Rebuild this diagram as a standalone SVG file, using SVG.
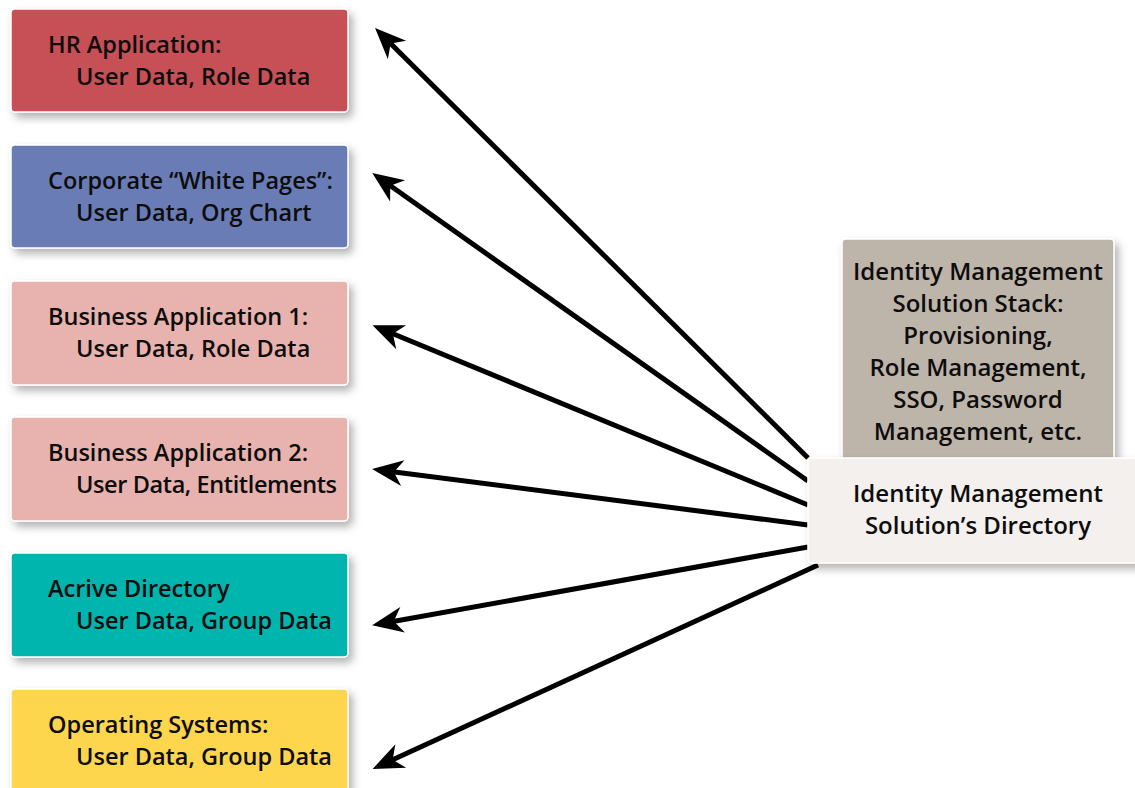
<svg xmlns="http://www.w3.org/2000/svg" width="1135" height="788" viewBox="0 0 1135 788">
<style>
  .lbl { font-family: "Open Sans", "Liberation Sans", sans-serif; font-weight: 600; font-size: 23.5px; fill: #0d0d0d; }
  .rt { font-size: 24px; }
  .ctr { text-anchor: middle; }
  .box { filter: url(#sh); }
  .conn { stroke: #000; stroke-width: 5; fill: none; marker-end: url(#ah); }
</style>
<defs>
  <filter id="sh" x="-10%" y="-20%" width="125%" height="150%">
    <feDropShadow dx="4" dy="5" stdDeviation="4" flood-color="#000" flood-opacity="0.3"/>
  </filter>
  <marker id="ah" markerUnits="userSpaceOnUse" viewBox="-26 -15 36 30" refX="0" refY="0" markerWidth="36" markerHeight="30" orient="auto">
    <path d="M7,0 L-24,-13 L-15,0 L-24,13 Z" fill="#000"/>
  </marker>
</defs>
<rect width="1135" height="788" fill="#fff"/>

<g id="connectors">
  <line class="conn" x1="808" y1="458" x2="380" y2="33"/>
  <line class="conn" x1="808" y1="481" x2="378" y2="177"/>
  <line class="conn" x1="808" y1="505" x2="379" y2="328"/>
  <line class="conn" x1="808" y1="525" x2="379" y2="470"/>
  <line class="conn" x1="808" y1="547" x2="379" y2="624"/>
  <line class="conn" x1="818" y1="565" x2="379" y2="766"/>
</g>

<g id="hr-app">
  <rect class="box" x="11" y="9" width="337" height="103" rx="4" fill="#C74F57" stroke="#fff" stroke-width="1.5"/>
  <text class="lbl" x="48" y="53">HR Application:</text>
  <text class="lbl" x="76" y="85">User Data, Role Data</text>
</g>
<g id="white-pages">
  <rect class="box" x="11" y="145" width="337" height="103" rx="4" fill="#6A7CB6" stroke="#fff" stroke-width="1.5"/>
  <text class="lbl" x="48" y="189">Corporate “White Pages”:</text>
  <text class="lbl" x="76" y="221">User Data, Org Chart</text>
</g>
<g id="business-app-1">
  <rect class="box" x="11" y="281" width="337" height="104" rx="4" fill="#E8B2AE" stroke="#fff" stroke-width="1.5"/>
  <text class="lbl" x="48" y="325">Business Application 1:</text>
  <text class="lbl" x="76" y="357">User Data, Role Data</text>
</g>
<g id="business-app-2">
  <rect class="box" x="11" y="417" width="337" height="104" rx="4" fill="#E8B2AE" stroke="#fff" stroke-width="1.5"/>
  <text class="lbl" x="48" y="461">Business Application 2:</text>
  <text class="lbl" x="76" y="493" letter-spacing="-0.4">User Data, Entitlements</text>
</g>
<g id="active-directory">
  <rect class="box" x="11" y="553" width="337" height="104" rx="4" fill="#00B5AD" stroke="#fff" stroke-width="1.5"/>
  <text class="lbl" x="48" y="597">Acrive Directory</text>
  <text class="lbl" x="76" y="629">User Data, Group Data</text>
</g>
<g id="operating-systems">
  <rect class="box" x="11" y="689" width="337" height="110" rx="4" fill="#FDD64E" stroke="#fff" stroke-width="1.5"/>
  <text class="lbl" x="48" y="733">Operating Systems:</text>
  <text class="lbl" x="76" y="765">User Data, Group Data</text>
</g>
<g id="idm-stack">
  <rect class="box" x="842" y="239" width="272" height="222" rx="4" fill="#BDB4AA" stroke="#fff" stroke-width="1.5"/>
  <text class="lbl rt ctr" x="978" y="280">Identity Management</text>
  <text class="lbl rt ctr" x="978" y="312">Solution Stack:</text>
  <text class="lbl rt ctr" x="978" y="344">Provisioning,</text>
  <text class="lbl rt ctr" x="978" y="376">Role Management,</text>
  <text class="lbl rt ctr" x="978" y="408">SSO, Password</text>
  <text class="lbl rt ctr" x="978" y="440">Management, etc.</text>
</g>
<g id="idm-directory">
  <rect class="box" x="808" y="458" width="340" height="105" rx="4" fill="#F4F0ED" stroke="#fff" stroke-width="1.5"/>
  <text class="lbl rt ctr" x="978" y="502">Identity Management</text>
  <text class="lbl rt ctr" x="978" y="534">Solution’s Directory</text>
</g>
</svg>
